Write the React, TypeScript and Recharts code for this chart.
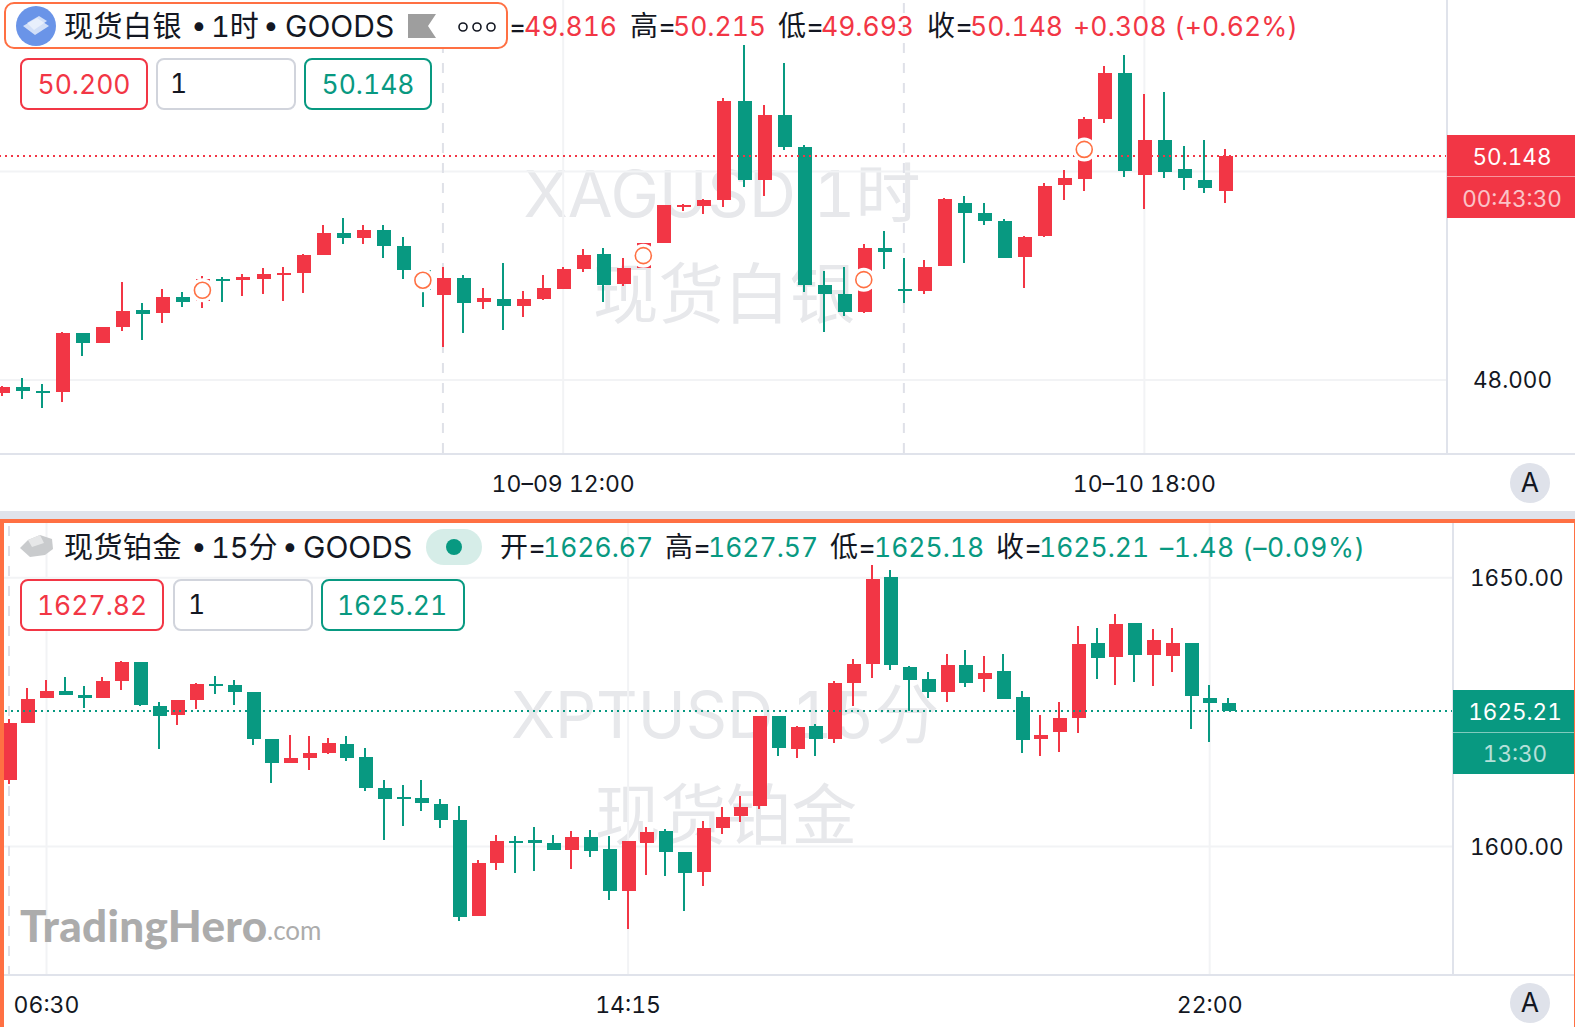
import React from 'react';
import { ComposedChart, Bar, Scatter, XAxis, YAxis, CartesianGrid, ReferenceLine } from 'recharts';

const RED = '#F23645';
const GREEN = '#089981';
const ORANGE = '#FF7043';
const FONT = 'Inter, "Noto Sans CJK SC", sans-serif';

// silver, 1 hour
const silverOpen = [47.876, 47.933, 47.895, 47.885, 48.45, 48.354, 48.507, 48.67, 48.641, 48.794, 48.756, 48.967, 48.957, 48.967, 49.005, 49.024, 49.196, 49.407, 49.359, 49.435, 49.282, 49.053, 48.813, 48.976, 48.746, 48.775, 48.708, 48.775, 48.871, 49.062, 49.206, 48.919, 49.072, 49.311, 49.656, 49.665, 49.722, 50.679, 49.914, 50.545, 50.23, 48.909, 48.823, 48.651, 49.263, 48.871, 48.852, 49.091, 49.694, 49.598, 49.522, 49.177, 49.378, 49.866, 49.923, 50.498, 50.947, 49.962, 50.297, 50.019, 49.914, 49.816];
const silverHigh = [47.943, 48.019, 47.962, 48.459, 48.45, 48.507, 48.938, 48.737, 48.871, 48.842, 48.995, 48.986, 49.014, 49.072, 49.081, 49.206, 49.483, 49.55, 49.483, 49.483, 49.368, 49.053, 49.081, 49.005, 48.88, 49.12, 48.852, 49.005, 49.081, 49.254, 49.263, 49.167, 49.311, 49.675, 49.684, 49.732, 50.708, 51.215, 50.641, 51.043, 50.249, 49.043, 49.081, 49.301, 49.426, 49.167, 49.148, 49.742, 49.761, 49.694, 49.541, 49.378, 49.885, 50.01, 50.526, 51.014, 51.12, 50.746, 50.766, 50.239, 50.306, 50.215];
const silverLow = [47.847, 47.818, 47.732, 47.789, 48.23, 48.354, 48.469, 48.383, 48.545, 48.699, 48.689, 48.746, 48.804, 48.823, 48.756, 48.833, 49.196, 49.301, 49.301, 49.167, 48.967, 48.699, 48.316, 48.45, 48.679, 48.478, 48.603, 48.766, 48.871, 49.033, 48.746, 48.9, 49.072, 49.311, 49.617, 49.589, 49.665, 49.856, 49.77, 50.211, 48.842, 48.459, 48.612, 48.641, 49.062, 48.737, 48.823, 49.091, 49.12, 49.483, 49.167, 48.88, 49.368, 49.722, 49.818, 50.469, 49.952, 49.646, 49.943, 49.818, 49.799, 49.693];
const silverClose = [47.933, 47.895, 47.876, 48.45, 48.354, 48.507, 48.66, 48.632, 48.794, 48.746, 48.967, 48.947, 48.986, 49.014, 49.024, 49.196, 49.407, 49.359, 49.435, 49.282, 49.053, 48.861, 48.976, 48.737, 48.785, 48.708, 48.775, 48.88, 49.062, 49.196, 48.909, 49.072, 49.311, 49.675, 49.675, 49.722, 50.679, 49.914, 50.545, 50.23, 48.909, 48.823, 48.651, 49.263, 49.225, 48.852, 49.081, 49.732, 49.598, 49.522, 49.167, 49.368, 49.856, 49.933, 50.498, 50.947, 50.0, 50.306, 49.99, 49.933, 49.837, 50.148];
const silverMarkers = [{ i: 10, v: 48.861 }, { i: 21, v: 48.957 }, { i: 32, v: 49.193 }, { i: 43, v: 48.963 }, { i: 54, v: 50.211 }];
const silverPriceTicks = [48, 50];
const silverPriceLabels = ['48.000', ''];  // 50.000 sits behind the price tag
const silverTimeTicks = [28, 57];
const silverTimeLabels = ['10–09 12:00', '10–10 18:00'];
const silverSessions = [22, 45];

// platinum, 15 min
const platinumOpen = [1612.44, 1623.02, 1627.66, 1628.96, 1628.22, 1627.66, 1630.82, 1634.34, 1626.18, 1624.5, 1627.29, 1630.26, 1630.07, 1628.77, 1620.05, 1615.59, 1616.52, 1617.45, 1619.12, 1616.71, 1610.95, 1609.28, 1609.1, 1607.98, 1605.01, 1587.19, 1597.03, 1601.11, 1601.3, 1600.74, 1599.44, 1601.86, 1599.63, 1591.83, 1600.74, 1602.97, 1599.07, 1595.36, 1603.53, 1605.75, 1607.61, 1624.32, 1618.19, 1622.46, 1620.05, 1630.44, 1633.97, 1650.12, 1633.42, 1631.19, 1628.77, 1633.79, 1631.19, 1632.67, 1627.85, 1620.05, 1621.35, 1623.95, 1637.87, 1635.27, 1641.58, 1635.64, 1635.46, 1637.87, 1627.66, 1626.67];
const platinumHigh = [1623.76, 1629.52, 1631.0, 1631.56, 1629.89, 1631.56, 1634.53, 1634.34, 1626.92, 1627.29, 1630.44, 1631.74, 1631.0, 1628.77, 1620.05, 1620.79, 1620.61, 1620.23, 1620.61, 1618.38, 1612.44, 1611.51, 1612.44, 1608.91, 1607.61, 1597.59, 1602.23, 1602.04, 1603.71, 1602.23, 1602.97, 1603.16, 1602.04, 1601.11, 1603.71, 1603.34, 1599.07, 1604.83, 1607.43, 1609.47, 1624.32, 1624.32, 1622.46, 1622.83, 1630.82, 1634.9, 1652.35, 1651.42, 1633.6, 1632.49, 1635.83, 1636.57, 1635.46, 1635.83, 1628.96, 1624.5, 1626.92, 1641.03, 1640.65, 1643.25, 1641.58, 1640.47, 1640.65, 1637.87, 1630.07, 1627.57];
const platinumLow = [1611.7, 1623.02, 1627.66, 1628.22, 1625.8, 1627.66, 1629.15, 1626.18, 1618.19, 1622.65, 1625.62, 1628.4, 1626.36, 1618.94, 1611.88, 1615.59, 1614.29, 1617.26, 1615.97, 1610.4, 1601.3, 1603.9, 1606.68, 1603.53, 1586.26, 1587.19, 1595.73, 1595.17, 1595.54, 1599.44, 1595.92, 1598.14, 1590.16, 1584.78, 1594.8, 1594.62, 1588.12, 1592.76, 1602.41, 1604.64, 1607.05, 1616.89, 1616.52, 1616.89, 1619.31, 1626.18, 1631.37, 1632.86, 1625.25, 1627.66, 1626.92, 1629.7, 1628.77, 1627.47, 1617.45, 1616.89, 1617.64, 1621.16, 1631.19, 1630.07, 1630.63, 1629.89, 1632.49, 1621.91, 1619.49, 1625.18];
const platinumClose = [1623.02, 1627.47, 1628.96, 1628.22, 1627.66, 1630.82, 1634.34, 1626.36, 1624.32, 1627.29, 1630.26, 1629.89, 1628.77, 1620.05, 1615.59, 1616.52, 1617.45, 1619.31, 1616.52, 1610.95, 1608.91, 1608.91, 1608.17, 1605.01, 1586.82, 1597.03, 1601.11, 1600.74, 1600.74, 1599.44, 1601.86, 1599.26, 1591.83, 1601.11, 1602.78, 1599.07, 1595.17, 1603.53, 1605.57, 1607.43, 1624.32, 1618.38, 1622.28, 1620.05, 1630.44, 1633.97, 1649.75, 1633.79, 1631.0, 1628.77, 1633.79, 1630.44, 1632.3, 1627.47, 1619.86, 1620.79, 1623.95, 1637.69, 1635.09, 1641.4, 1635.64, 1638.43, 1637.87, 1628.03, 1626.73, 1625.21];
const platinumPriceTicks = [1600, 1650];
const platinumPriceLabels = ['1600.00', '1650.00'];
const platinumTimeTicks = [2, 33, 64];
const platinumTimeLabels = ['06:30', '14:15', '22:00'];
const platinumSessions = [0];

const toRows = (o: number[], h: number[], l: number[], c: number[]) =>
  o.map((open, i) => ({ i, open, high: h[i], low: l[i], close: c[i] }));

// draws one candle from the [low, high] bar the library gives us
const Candle = (props: any) => {
  const { x, y, width, height, payload } = props;
  const { open, high, low, close } = payload;
  const top = Math.min(y, y + height);
  const unit = Math.abs(height) / (high - low);
  const py = (v: number) => top + (high - v) * unit;
  const c = Math.round(x + width / 2);
  const color = close >= open ? RED : GREEN;
  const bodyTop = Math.round(py(Math.max(open, close)));
  const bodyBottom = Math.round(py(Math.min(open, close)));
  return (
    <g>
      <rect x={c - 1} y={Math.round(top)} width={2} height={Math.max(1, Math.round(Math.abs(height)))} fill={color} />
      <rect x={c - 6} y={bodyTop} width={14} height={Math.max(2, bodyBottom - bodyTop)} fill={color} />
    </g>
  );
};

const Marker = (props: any) => (
  <g>
    <circle cx={props.cx} cy={props.cy} r={12} fill="#fff" />
    <circle cx={props.cx} cy={props.cy} r={8} fill="#fff" stroke={ORANGE} strokeWidth={1.6} />
  </g>
);

interface PanelProps {
  rows: any[];
  width: number;
  height: number;
  axisHeight: number;
  axisWidth: number;
  xDomain: number[];
  yDomain: number[];
  xTicks: number[];
  xLabels: string[];
  yTicks: number[];
  yLabels: string[];
  last: number;
  lastColor: string;
  sessions: number[];
  markers?: any[];
  tickMargin: number;
  timeMargin: number;
}

const Panel = (p: PanelProps) => (
  <ComposedChart width={p.width} height={p.height} data={p.rows} margin={{ top: 0, right: 0, bottom: 0, left: 0 }}>
    <CartesianGrid stroke="#f2f3f5" strokeWidth={2} syncWithTicks />
    <CartesianGrid stroke="#dfe1e8" strokeWidth={2} strokeDasharray="10 10" strokeDashoffset={17} horizontal={false} verticalValues={p.sessions} />
    <XAxis
      dataKey="i"
      type="number"
      domain={p.xDomain}
      allowDataOverflow
      ticks={p.xTicks}
      interval={0}
      tickFormatter={(v: number) => p.xLabels[p.xTicks.indexOf(v)]}
      tick={{ fill: '#131722', fontSize: 23, fontFamily: FONT }}
      tickLine={false}
      axisLine={{ stroke: '#e0e3eb', strokeWidth: 2 }}
      height={p.axisHeight}
      tickMargin={p.timeMargin}
    />
    <YAxis
      orientation="right"
      type="number"
      domain={p.yDomain}
      allowDataOverflow
      ticks={p.yTicks}
      interval={0}
      tickFormatter={(v: number) => p.yLabels[p.yTicks.indexOf(v)]}
      tick={{ fill: '#131722', fontSize: 22.5, fontFamily: FONT }}
      tickLine={false}
      axisLine={{ stroke: '#e0e3eb', strokeWidth: 2 }}
      width={p.axisWidth}
      tickMargin={p.tickMargin}
    />
    <Bar dataKey={(d: any) => [d.low, d.high]} barSize={14} shape={<Candle />} isAnimationActive={false} />
    {p.markers && (
      <Scatter data={p.markers} dataKey="v" shape={<Marker />} isAnimationActive={false} />
    )}
    <ReferenceLine y={p.last} stroke={p.lastColor} strokeWidth={2} strokeDasharray="2 4" />
  </ComposedChart>
);

const Txt = ({ x, y, size = 26.5, color = '#131722', center = false, spacing = 0, weight = 400, opacity = 1, family = FONT, children }: any) => (
  <div
    style={{
      position: 'absolute',
      left: x,
      top: y,
      transform: center ? 'translate(-50%, -50%)' : 'translateY(-50%)',
      fontSize: size,
      lineHeight: 1,
      color,
      letterSpacing: spacing,
      fontWeight: weight,
      opacity,
      fontFamily: family,
      whiteSpace: 'nowrap',
    }}
  >
    {children}
  </div>
);

const Box = ({ x, y, w, h, color, bg = '#fff', bw = 2, radius = 8 }: any) => (
  <div
    style={{
      position: 'absolute',
      left: x,
      top: y,
      width: w,
      height: h,
      boxSizing: 'border-box',
      border: `${bw}px solid ${color}`,
      background: bg,
      borderRadius: radius,
    }}
  />
);

const Fill = ({ x, y, w, h, color }: any) => (
  <div style={{ position: 'absolute', left: x, top: y, width: w, height: h, background: color }} />
);

export default function App() {
  return (
    <div style={{ position: 'absolute', left: 0, top: 0, width: 1575, height: 1027, background: '#fff', overflow: 'hidden', fontFamily: FONT, fontVariantNumeric: 'tabular-nums' }}>
      {/* watermarks sit under the candles */}
      <Txt x={722} y={193} size={65} color="#e7e8eb" center>XAGUSD 1时</Txt>
      <Txt x={724} y={295} size={65.5} color="#e7e8eb" center>现货白银</Txt>
      <Txt x={725} y={715} size={64.5} color="#e7e8eb" center>XPTUSD 15分</Txt>
      <Txt x={726} y={816} size={65.5} color="#e7e8eb" center>现货铂金</Txt>

      <div style={{ position: 'absolute', left: 0, top: 0 }}>
        <Panel
          rows={toRows(silverOpen, silverHigh, silverLow, silverClose)}
          width={1575}
          height={510}
          axisHeight={56}
          axisWidth={128}
          xDomain={[-0.0998, 72.1]}
          yDomain={[47.292, 51.643]}
          xTicks={silverTimeTicks}
          xLabels={silverTimeLabels}
          yTicks={silverPriceTicks}
          yLabels={silverPriceLabels}
          last={50.148}
          lastColor={RED}
          sessions={silverSessions}
          markers={silverMarkers.map((m) => ({ i: m.i, v: m.v }))}
          tickMargin={20}
          timeMargin={16}
        />
      </div>
      <div style={{ position: 'absolute', left: 0, top: 523 }}>
        <Panel
          rows={toRows(platinumOpen, platinumHigh, platinumLow, platinumClose)}
          width={1575}
          height={504}
          axisHeight={52}
          axisWidth={122}
          xDomain={[-0.48, 76.97]}
          yDomain={[1576.13, 1660.16]}
          xTicks={platinumTimeTicks}
          xLabels={platinumTimeLabels}
          yTicks={platinumPriceTicks}
          yLabels={platinumPriceLabels}
          last={1625.21}
          lastColor={GREEN}
          sessions={platinumSessions}
          tickMargin={11}
          timeMargin={16}
        />
      </div>

      {/* time axis lines run on under the price scale */}
      <Fill x={1447} y={453} w={128} h={2} color="#e0e3eb" />
      <Fill x={1453} y={974} w={122} h={2} color="#e0e3eb" />

      {/* separator and active pane border */}
      <Fill x={0} y={511} w={1575} h={8} color="#e0e3eb" />
      <Fill x={0} y={519} w={1575} h={4} color={ORANGE} />
      <Fill x={0} y={519} w={4} h={508} color={ORANGE} />
      <Fill x={1574} y={519} w={1} h={508} color={ORANGE} />

      {/* silver header */}
      <Box x={4} y={2} w={504} h={47} color={ORANGE} radius={10} />
      <svg style={{ position: 'absolute', left: 16, top: 6 }} width={40} height={40}>
        <circle cx={20} cy={20} r={20} fill="#6a94e8" />
        <polygon points="7,20 21,12 33,20 19,29" fill="#fff" opacity={0.7} />
        <polygon points="11,17 23,10 31,15 18,24" fill="#eef3fd" opacity={0.8} />
      </svg>
      <Txt x={64} y={26} size={29} spacing={0.5}>现货白银</Txt>
      <Txt x={191} y={25} size={28}>•</Txt>
      <Txt x={211} y={26} size={29}>1时</Txt>
      <Txt x={263} y={25} size={28}>•</Txt>
      <Txt x={285} y={26} size={30}>GOODS</Txt>
      <svg style={{ position: 'absolute', left: 408, top: 14 }} width={28} height={24}>
        <polygon points="0,0 28,0 20,12 28,24 0,24" fill="#9e9e9e" />
      </svg>
      <svg style={{ position: 'absolute', left: 456, top: 20 }} width={42} height={14}>
        <circle cx={7} cy={7} r={4} fill="none" stroke="#131722" strokeWidth={1.6} />
        <circle cx={21} cy={7} r={4} fill="none" stroke="#131722" strokeWidth={1.6} />
        <circle cx={35} cy={7} r={4} fill="none" stroke="#131722" strokeWidth={1.6} />
      </svg>
      <Txt x={509} y={26}>=</Txt>
      <Txt x={524} y={26} color={RED}>49.816</Txt>
      <Txt x={630} y={26} size={28}>高=</Txt>
      <Txt x={673} y={26} color={RED}>50.215</Txt>
      <Txt x={778} y={26} size={28}>低=</Txt>
      <Txt x={821} y={26} color={RED}>49.693</Txt>
      <Txt x={927} y={26} size={28}>收=</Txt>
      <Txt x={970} y={26} color={RED}>50.148</Txt>
      <Txt x={1073} y={26} color={RED} spacing={0.15}>+0.308 (+0.62%)</Txt>

      <Box x={20} y={58} w={128} h={52} color={RED} />
      <Txt x={84} y={84} color={RED} center>50.200</Txt>
      <Box x={156} y={58} w={140} h={52} color="#d1d4dc" />
      <Txt x={170} y={83}>1</Txt>
      <Box x={304} y={58} w={128} h={52} color={GREEN} />
      <Txt x={368} y={84} color={GREEN} center>50.148</Txt>

      <Fill x={1447} y={135} w={128} h={83} color={RED} />
      <Fill x={1447} y={176} w={128} h={1} color="#f8959d" />
      <Txt x={1512} y={157} color="#fff" center size={22.5}>50.148</Txt>
      <Txt x={1512} y={199} color="#fff" opacity={0.7} center size={22.5}>00:43:30</Txt>

      {/* platinum header */}
      <svg style={{ position: 'absolute', left: 20, top: 535 }} width={34} height={24}>
        <polygon points="0,13 8,5 20,0 32,4 33,14 25,20 10,22" fill="#c9cbcd" />
        <polygon points="8,5 20,0 24,8 12,12" fill="#e6e7e8" />
      </svg>
      <Txt x={64} y={547} size={29} spacing={0.5}>现货铂金</Txt>
      <Txt x={191} y={546} size={28}>•</Txt>
      <Txt x={211} y={547} size={29}>15分</Txt>
      <Txt x={282} y={546} size={28}>•</Txt>
      <Txt x={303} y={547} size={30}>GOODS</Txt>
      <Box x={426} y={529} w={56} h={36} color="#d6ede8" bg="#d6ede8" bw={0} radius={18} />
      <svg style={{ position: 'absolute', left: 446, top: 539 }} width={16} height={16}>
        <circle cx={8} cy={8} r={8} fill={GREEN} />
      </svg>
      <Txt x={500} y={547} size={28}>开=</Txt>
      <Txt x={543} y={547} color={GREEN}>1626.67</Txt>
      <Txt x={665} y={547} size={28}>高=</Txt>
      <Txt x={708} y={547} color={GREEN}>1627.57</Txt>
      <Txt x={830} y={547} size={28}>低=</Txt>
      <Txt x={874} y={547} color={GREEN}>1625.18</Txt>
      <Txt x={996} y={547} size={28}>收=</Txt>
      <Txt x={1039} y={547} color={GREEN}>1625.21</Txt>
      <Txt x={1160} y={547} color={GREEN} spacing={0.55}>–1.48 (–0.09%)</Txt>

      <Box x={20} y={579} w={144} h={52} color={RED} />
      <Txt x={92} y={605} color={RED} center>1627.82</Txt>
      <Box x={173} y={579} w={140} h={52} color="#d1d4dc" />
      <Txt x={188} y={604}>1</Txt>
      <Box x={321} y={579} w={144} h={52} color={GREEN} />
      <Txt x={392} y={605} color={GREEN} center>1625.21</Txt>

      <Fill x={1453} y={690} w={121} h={84} color={GREEN} />
      <Fill x={1453} y={732} w={121} h={1} color="#7fcabd" />
      <Txt x={1515} y={712} color="#fff" center size={22.5}>1625.21</Txt>
      <Txt x={1515} y={754} color="#fff" opacity={0.7} center size={22.5}>13:30</Txt>

      {/* logo */}
      <Txt x={20} y={925} size={44} color="#acacac" weight={900} spacing={0.3} family="Lato, sans-serif">TradingHero</Txt>
      <Txt x={267} y={930} size={26} color="#acacac" family="Lato, sans-serif">.com</Txt>

      {/* auto scale buttons */}
      <Box x={1510} y={463} w={40} h={40} color="#dfe2ea" bg="#dfe2ea" bw={0} radius={20} />
      <Txt x={1530} y={482} center>A</Txt>
      <Box x={1510} y={983} w={40} h={40} color="#dfe2ea" bg="#dfe2ea" bw={0} radius={20} />
      <Txt x={1530} y={1002} center>A</Txt>
    </div>
  );
}
